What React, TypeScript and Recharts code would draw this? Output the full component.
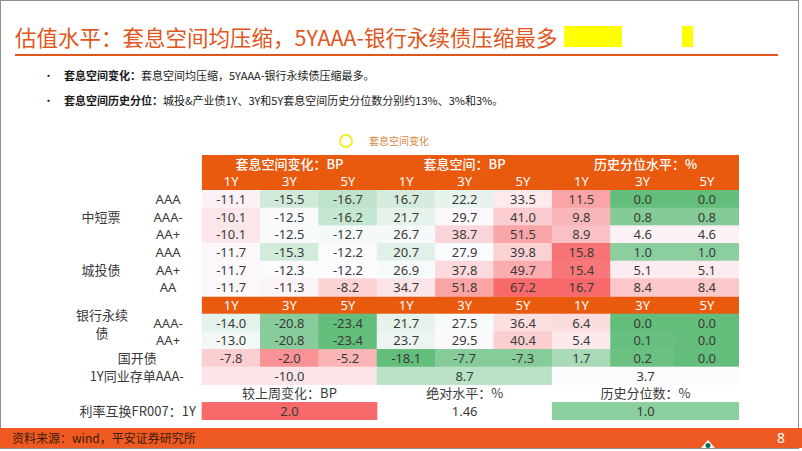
import React from 'react';
import { ScatterChart, Scatter, XAxis, YAxis, ReferenceArea, Legend } from 'recharts';

// ---- data ----
const BLOCK_TITLES = ['套息空间变化：BP', '套息空间：BP', '历史分位水平：%'];
const TENORS = ['1Y', '3Y', '5Y'];
const GROUPS = ['中短票', '城投债', '银行永续', '债', '国开债'];
const GRADES = ['AAA', 'AAA-', 'AA+', 'AAA', 'AA+', 'AA', 'AAA-', 'AA+', ''];

const CHANGE_BP = [
  [-11.1, -15.5, -16.7],
  [-10.1, -12.5, -16.2],
  [-10.1, -12.5, -12.7],
  [-11.7, -15.3, -12.2],
  [-11.7, -12.3, -12.2],
  [-11.7, -11.3, -8.2],
  [-14.0, -20.8, -23.4],
  [-13.0, -20.8, -23.4],
  [-7.8, -2.0, -5.2],
];
const SPREAD_BP = [
  [16.7, 22.2, 33.5],
  [21.7, 29.7, 41.0],
  [26.7, 38.7, 51.5],
  [20.7, 27.9, 39.8],
  [26.9, 37.8, 49.7],
  [34.7, 51.8, 67.2],
  [21.7, 27.5, 36.4],
  [23.7, 29.5, 40.4],
  [-18.1, -7.7, -7.3],
];
const PERCENTILE = [
  [11.5, 0.0, 0.0],
  [9.8, 0.8, 0.8],
  [8.9, 4.6, 4.6],
  [15.8, 1.0, 1.0],
  [15.4, 5.1, 5.1],
  [16.7, 8.4, 8.4],
  [6.4, 0.0, 0.0],
  [5.4, 0.1, 0.0],
  [1.7, 0.2, 0.0],
];
const NCD_LABEL = '1Y同业存单AAA-';
const NCD_1Y = [-10.0, 8.7, 3.7];
const IRS_LABEL = '利率互换FR007：1Y';
const IRS_TITLES = ['较上周变化：BP', '绝对水平：%', '历史分位数：%'];
const IRS_1Y = [2.0, 1.46, 1.0];
const IRS_DECIMALS = [1, 2, 1];

// ---- layout ----
const W = 802;
const H = 451;
const MARGIN = { top: 155, right: 63, bottom: 31, left: 56 };
const X_MIN = -2.5;
const X_MAX = 9.2;
const ROWS = 15;
const UNIT_PX = (W - MARGIN.left - MARGIN.right) / (X_MAX - X_MIN);
const ROW_PX = (H - MARGIN.top - MARGIN.bottom) / ROWS;
const COL_W = [1, 1, 1, 1, 1, 1, 1, 1.1, 1.1];
const DATA_ROWS = [2, 3, 4, 5, 6, 7, 9, 10, 11];
const ORANGE = '#E95A0F';
const FONT = '"Noto Sans", "Noto Sans CJK SC", sans-serif';
const CJK = '"Noto Sans CJK SC", "Noto Sans", sans-serif';

const colEdge = (i: number) => COL_W.slice(0, i).reduce((a, b) => a + b, 0);
const spanOf = (a: number, b: number) => ({ x: (colEdge(a) + colEdge(b)) / 2, w: colEdge(b) - colEdge(a) });

// excel style green - white - red scale
const GREEN = [99, 190, 123];
const MID = [252, 252, 255];
const RED = [248, 105, 107];
const median = (arr: number[]) => {
  const s = [...arr].sort((a, b) => a - b);
  const n = s.length;
  return n % 2 ? s[(n - 1) / 2] : (s[n / 2 - 1] + s[n / 2]) / 2;
};
const makeScale = (vals: number[]) => {
  const lo = Math.min(...vals);
  const hi = Math.max(...vals);
  const md = median(vals);
  return (v: number) => {
    let t: number;
    let to: number[];
    if (v <= md) {
      t = md === lo ? 0 : (md - v) / (md - lo);
      to = GREEN;
    } else {
      t = hi === md ? 0 : (v - md) / (hi - md);
      to = RED;
    }
    const c = MID.map((m, i) => Math.round(m + (to[i] - m) * t));
    return `rgb(${c[0]},${c[1]},${c[2]})`;
  };
};

const BLOCKS = [CHANGE_BP, SPREAD_BP, PERCENTILE];
const blockVals = [
  [...CHANGE_BP.flat(), NCD_1Y[0], IRS_1Y[0]],
  [...SPREAD_BP.flat(), NCD_1Y[1]],
  [...PERCENTILE.flat(), NCD_1Y[2], IRS_1Y[2]],
];
const scales = blockVals.map(makeScale);

type Cell = {
  x: number;
  y: number;
  w?: number;
  fill?: string;
  text?: string;
  color?: string;
  size?: number;
  anchor?: 'start' | 'middle' | 'end';
  weight?: number | string;
  family?: string;
};

const cells: Cell[] = [];
// header
BLOCK_TITLES.forEach((t, b) => {
  const s = spanOf(b * 3, b * 3 + 3);
  cells.push({ x: s.x, y: 0.55, text: t, color: '#fff', size: 13, weight: 500, family: CJK });
});
[1, 8].forEach((r) => {
  for (let c = 0; c < 9; c++) {
    const s = spanOf(c, c + 1);
    cells.push({ x: s.x, y: r + 0.5, text: TENORS[c % 3], color: '#fff', size: 13 });
  }
});
// body
BLOCKS.forEach((block, b) => {
  block.forEach((row, i) => {
    row.forEach((v, j) => {
      const c = b * 3 + j;
      const s = spanOf(c, c + 1);
      cells.push({ x: s.x, y: DATA_ROWS[i] + 0.5, w: s.w, fill: scales[b](v), text: v.toFixed(1) });
    });
  });
});
NCD_1Y.forEach((v, b) => {
  const s = spanOf(b * 3, b * 3 + 3);
  cells.push({ x: s.x, y: 12.5, w: s.w, fill: scales[b](v), text: v.toFixed(1) });
});
IRS_TITLES.forEach((t, b) => {
  const s = spanOf(b * 3, b * 3 + 3);
  cells.push({ x: s.x, y: 13.5, text: t, family: CJK });
});
IRS_1Y.forEach((v, b) => {
  const s = spanOf(b * 3, b * 3 + 3);
  cells.push({
    x: s.x,
    y: 14.5,
    w: s.w,
    fill: b === 1 ? undefined : scales[b](v),
    text: v.toFixed(IRS_DECIMALS[b]),
  });
});

// row labels
const labels: Cell[] = [];
DATA_ROWS.forEach((r, i) => {
  if (GRADES[i]) labels.push({ x: -0.58, y: r + 0.5, text: GRADES[i] });
});
labels.push({ x: -1.73, y: 3.5, text: GROUPS[0], family: CJK });
labels.push({ x: -1.73, y: 6.5, text: GROUPS[1], family: CJK });
labels.push({ x: -1.71, y: 9.1, text: GROUPS[2], family: CJK });
labels.push({ x: -1.71, y: 10.1, text: GROUPS[3], family: CJK });
labels.push({ x: -1.11, y: 11.5, text: GROUPS[4], family: CJK });
labels.push({ x: -0.31, y: 12.5, text: NCD_LABEL, anchor: 'end', family: CJK });
labels.push({ x: -1.1, y: 14.5, text: IRS_LABEL, family: CJK });

const CellShape = (p: any) => {
  const d: Cell = p.payload;
  const w = (d.w || 0) * UNIT_PX;
  return (
    <g>
      {d.fill && (
        <rect x={p.cx - w / 2 - 0.3} y={p.cy - ROW_PX / 2 - 0.3} width={w + 0.6} height={ROW_PX + 0.6} fill={d.fill} />
      )}
      {d.text && (
        <text
          x={p.cx}
          y={p.cy}
          dy="0.36em"
          textAnchor={d.anchor || 'middle'}
          fontSize={d.size || 13}
          fontWeight={d.weight || 'normal'}
          fill={d.color || '#3a3a3a'}
          fontFamily={d.family || FONT}
        >
          {d.text}
        </text>
      )}
    </g>
  );
};

const LegendBox = () => (
  <svg width={110} height={20}>
    <circle cx={9} cy={9} r={6} fill="none" stroke="#F2EE2E" strokeWidth={2} />
    <text x={32} y={9} dy="0.36em" fontSize={10} fill="#D9873F" fontFamily={CJK}>
      套息空间变化
    </text>
  </svg>
);

export default function App() {
  return (
    <div
      style={{
        position: 'absolute',
        left: 0,
        top: 0,
        width: W,
        height: H,
        background: '#fff',
        fontFamily: CJK,
        overflow: 'hidden',
      }}
    >
      <div style={{ position: 'absolute', left: 0, top: 0, width: 799, height: 449, border: '1px solid #8f8f8f', boxSizing: 'border-box' }} />
      <div style={{ position: 'absolute', left: 15, top: 22, fontSize: 21.5, lineHeight: '30px', color: '#E0561C', fontWeight: 400, whiteSpace: 'nowrap' }}>
        估值水平：套息空间均压缩，5YAAA-银行永续债压缩最多
      </div>
      <div style={{ position: 'absolute', left: 564, top: 26, width: 58, height: 21, background: '#FFFF00' }} />
      <div style={{ position: 'absolute', left: 682, top: 26, width: 11, height: 21, background: '#FFFF00' }} />
      <div style={{ position: 'absolute', left: 15, top: 54, width: 763, height: 2, background: '#E0561C' }} />

      {[
        ['套息空间变化：', '套息空间均压缩，5YAAA-银行永续债压缩最多。'],
        ['套息空间历史分位：', '城投&产业债1Y、3Y和5Y套息空间历史分位数分别约13%、3%和3%。'],
      ].map(([b, t], i) => (
        <div key={i} style={{ position: 'absolute', left: 43, top: 67 + i * 24.5, fontSize: 11, lineHeight: '17px', color: '#1a1a1a', whiteSpace: 'nowrap' }}>
          <span style={{ display: 'inline-block', width: 21 }}>•</span>
          <span style={{ fontWeight: 'bold' }}>{b}</span>
          <span>{t}</span>
        </div>
      ))}

      <div style={{ position: 'absolute', left: 0, top: 0 }}>
        <ScatterChart width={W} height={H} margin={MARGIN}>
          <XAxis type="number" dataKey="x" domain={[X_MIN, X_MAX]} hide allowDataOverflow />
          <YAxis type="number" dataKey="y" domain={[0, ROWS]} reversed hide allowDataOverflow />
          <ReferenceArea x1={0} x2={X_MAX} y1={0} y2={2} fill={ORANGE} fillOpacity={1} stroke="none" />
          <ReferenceArea x1={0} x2={X_MAX} y1={8} y2={9} fill={ORANGE} fillOpacity={1} stroke="none" />
          <Legend
            content={LegendBox}
            layout="horizontal"
            verticalAlign="middle"
            align="center"
            wrapperStyle={{ position: 'absolute', top: 132, left: 337, width: 110 }}
          />
          <Scatter name="套息空间变化" data={cells} shape={CellShape} isAnimationActive={false} />
          <Scatter name="labels" data={labels} shape={CellShape} isAnimationActive={false} legendType="none" />
        </ScatterChart>
      </div>

      <div style={{ position: 'absolute', left: 0, top: 428, width: W, height: 20, background: '#EF5A22' }}>
        <span style={{ position: 'absolute', left: 12, top: 1, fontSize: 12, lineHeight: '18px', color: '#3d1a05' }}>
          资料来源：wind，平安证券研究所
        </span>
        <span style={{ position: 'absolute', left: 777, top: 0, fontSize: 14, lineHeight: '20px', color: '#fff', fontFamily: FONT }}>8</span>
        <svg style={{ position: 'absolute', left: 700, top: 11 }} width={16} height={9}>
          <path d="M1 9 L8 1 L15 9 Z" fill="#fff" />
          <circle cx={8} cy={6.5} r={2.5} fill="#0c6b4f" />
        </svg>
      </div>
    </div>
  );
}
